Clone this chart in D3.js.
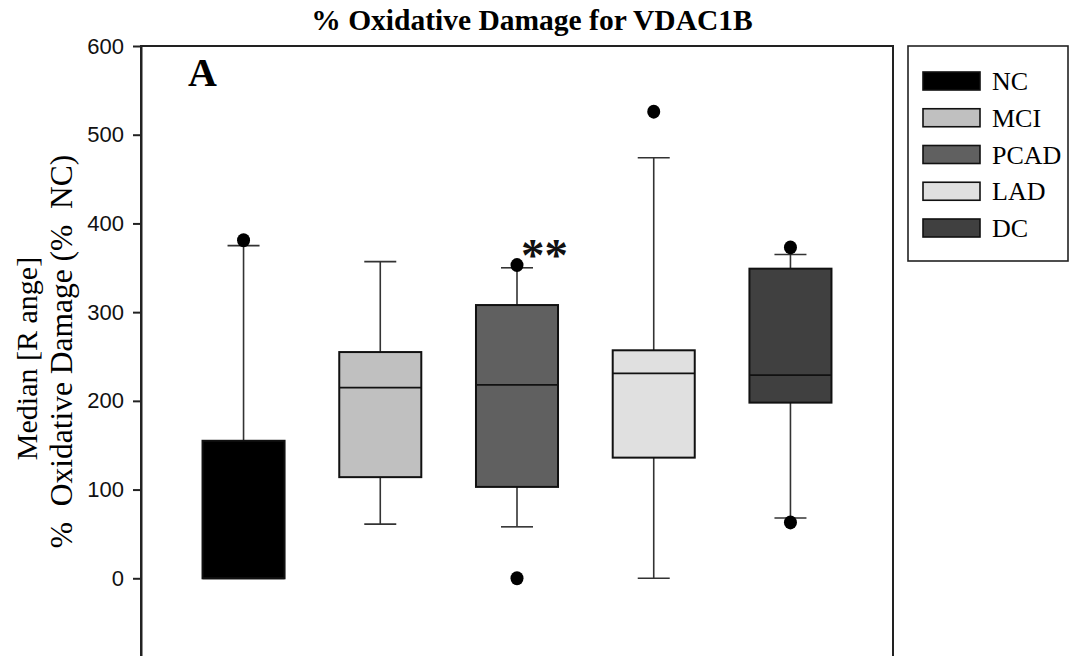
<!DOCTYPE html>
<html>
<head>
<meta charset="utf-8">
<script src="https://cdn.jsdelivr.net/npm/d3@7"></script>
<style>
  html, body { margin: 0; padding: 0; background: #fff; overflow: hidden; }
  svg { display: block; }
  .serif { font-family: "Liberation Serif", "Times New Roman", serif; }
  .tick text { font-family: "Liberation Sans", Arial, sans-serif; font-size: 22px; fill: #111; }
</style>
</head>
<body>
<svg id="chart" width="1071" height="656"></svg>
<script>
// Box plot of % oxidative damage per group.
const categories = ['NC', 'MCI', 'PCAD', 'LAD', 'DC'];
const q1 = [0, 114, 103, 136, 198];
const medians = [0, 215, 218, 231, 229];
const q3 = [155, 255, 308, 257, 349];
const whiskerLow = [0, 61, 58, 0, 68];
const whiskerHigh = [375, 357, 350, 474, 365];
const outliers = [[381], [], [353, 0], [526], [373, 63]];
const fills = ['#000000', '#c0c0c0', '#606060', '#e0e0e0', '#404040'];
const yTicks = [0, 100, 200, 300, 400, 500, 600];

const svg = d3.select('#chart');
const frame = { left: 141, right: 893, top: 46, bottom: 667 };

const x = d3.scalePoint().domain(categories).range([frame.left, frame.right]).padding(0.75);
const y = d3.scaleLinear().domain([-100, 600]).range([frame.bottom, frame.top]);
const boxW = x.step() * 0.6, capW = 32;

const rows = categories.map((c, i) => ({
  name: c, q1: q1[i], med: medians[i], q3: q3[i], lo: whiskerLow[i], hi: whiskerHigh[i], out: outliers[i], fill: fills[i]
}));

// plot frame
svg.append('rect')
  .attr('x', frame.left).attr('y', frame.top)
  .attr('width', frame.right - frame.left).attr('height', frame.bottom - frame.top)
  .attr('fill', 'none').attr('stroke', '#222').attr('stroke-width', 2);

// y axis with outward ticks
const yAxis = svg.append('g').attr('transform', `translate(${frame.left},0)`)
  .call(d3.axisLeft(y).tickValues(yTicks).tickSize(8).tickSizeOuter(0).tickPadding(9));
yAxis.select('.domain').attr('stroke', '#222').attr('stroke-width', 2);
yAxis.selectAll('.tick line').attr('stroke', '#222').attr('stroke-width', 2);

// boxes
const g = svg.append('g');
const box = g.selectAll('g.box').data(rows).enter().append('g').attr('class', 'box');

box.append('line').attr('x1', d => x(d.name)).attr('x2', d => x(d.name))
  .attr('y1', d => y(d.q3)).attr('y2', d => y(d.hi)).attr('stroke', '#333').attr('stroke-width', 1.6);
box.append('line').attr('x1', d => x(d.name)).attr('x2', d => x(d.name))
  .attr('y1', d => y(d.q1)).attr('y2', d => y(d.lo)).attr('stroke', '#333').attr('stroke-width', 1.6);
box.append('line').attr('x1', d => x(d.name) - capW / 2).attr('x2', d => x(d.name) + capW / 2)
  .attr('y1', d => y(d.hi)).attr('y2', d => y(d.hi)).attr('stroke', '#333').attr('stroke-width', 1.6);
box.append('line').attr('x1', d => x(d.name) - capW / 2).attr('x2', d => x(d.name) + capW / 2)
  .attr('y1', d => y(d.lo)).attr('y2', d => y(d.lo)).attr('stroke', '#333').attr('stroke-width', 1.6);

box.append('rect')
  .attr('x', d => x(d.name) - boxW / 2).attr('width', boxW)
  .attr('y', d => y(d.q3)).attr('height', d => y(d.q1) - y(d.q3))
  .attr('fill', d => d.fill).attr('stroke', '#111').attr('stroke-width', 2);
box.append('line').attr('x1', d => x(d.name) - boxW / 2).attr('x2', d => x(d.name) + boxW / 2)
  .attr('y1', d => y(d.med)).attr('y2', d => y(d.med)).attr('stroke', '#111').attr('stroke-width', 1.8);

box.selectAll('ellipse').data(d => d.out.map(v => ({ name: d.name, v }))).enter().append('ellipse')
  .attr('cx', d => x(d.name)).attr('cy', d => y(d.v)).attr('rx', 6.5).attr('ry', 7).attr('fill', '#000');

// significance mark above PCAD
svg.append('text').attr('class', 'serif')
  .attr('x', x('PCAD') + 4).attr('y', y(whiskerHigh[2]) + 3)
  .style('font-size', '47px').style('font-weight', 'bold').attr('fill', '#111').text('**');

// panel letter and title
svg.append('text').attr('class', 'serif').attr('x', 188).attr('y', 86)
  .style('font-size', '40px').style('font-weight', 'bold').text('A');
svg.append('text').attr('class', 'serif').attr('x', 532).attr('y', 30).attr('text-anchor', 'middle')
  .style('font-size', '29.5px').style('font-weight', 'bold').text('% Oxidative Damage for VDAC1B');

// y axis title, two lines
const yl = svg.append('g').attr('transform', `translate(0,${(frame.top + frame.bottom) / 2}) rotate(-90)`);
yl.append('text').attr('class', 'serif').attr('x', -2).attr('y', 37).attr('text-anchor', 'middle')
  .style('font-size', '30px').attr('xml:space', 'preserve').text('Median [R ange]');
yl.append('text').attr('class', 'serif').attr('x', 5).attr('y', 72).attr('text-anchor', 'middle')
  .style('font-size', '31.5px').attr('xml:space', 'preserve').text('%  Oxidative Damage (%  NC)');

// legend
const legend = svg.append('g');
legend.append('rect').attr('x', 908).attr('y', 46).attr('width', 160).attr('height', 215)
  .attr('fill', '#fff').attr('stroke', '#222').attr('stroke-width', 1.6);
const li = legend.selectAll('g.item').data(rows).enter().append('g').attr('class', 'item')
  .attr('transform', (d, i) => `translate(923,${72 + i * 36.75})`);
li.append('rect').attr('width', 57).attr('height', 18).attr('fill', d => d.fill)
  .attr('stroke', '#111').attr('stroke-width', 1.6);
li.append('text').attr('class', 'serif').attr('x', 69).attr('y', 18)
  .style('font-size', '26px').attr('fill', '#000').text(d => d.name);
</script>
</body>
</html>
